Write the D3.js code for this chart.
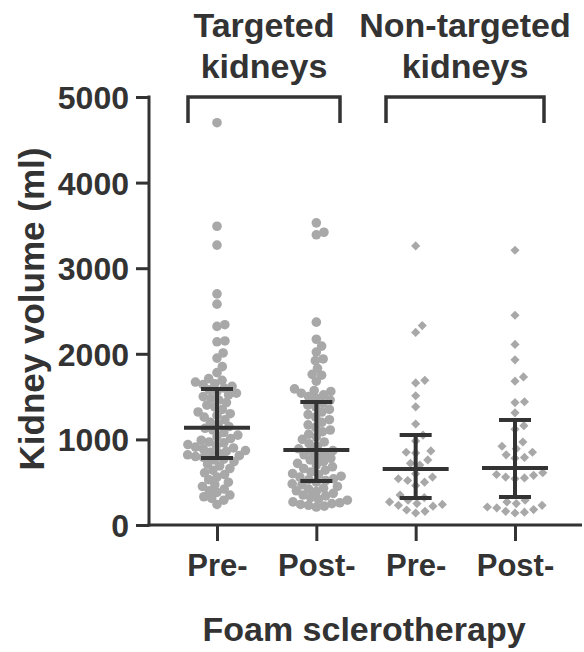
<!DOCTYPE html>
<html lang="en">
<head>
<meta charset="UTF-8" />
<script src="https://d3js.org/d3.v7.min.js"></script>
<style>
  body { margin: 0; background: #fff; }
  text { font-family: "Liberation Sans", Arial, sans-serif; font-weight: bold; fill: #333; }
</style>
</head>
<body>
<svg width="584" height="652"></svg>
<script>
// ---------- data ----------
var categories = ["Pre-", "Post-", "Pre- ", "Post- "];
var groupTitles = [["Targeted", "kidneys"], ["Non-targeted", "kidneys"]];
var yTicks = [0, 1000, 2000, 3000, 4000, 5000];

var targetedPre = [4700, 3490, 3270, 2700, 2580, 2340, 2320, 2150, 2140, 2010, 1950, 1850, 1780,
  1710, 1690, 1670, 1650, 1640, 1620, 1600, 1580, 1560, 1540, 1520, 1500, 1480, 1460,
  1430, 1400, 1380, 1350, 1320, 1300, 1280, 1260,
  1230, 1200, 1180, 1150, 1130, 1110, 1080, 1050, 1030, 1010,
  990, 970, 960, 940, 930, 910, 900, 890, 870, 860, 850, 840, 820, 810, 800, 790, 770, 760,
  740, 710, 690, 660, 640, 610, 590, 560,
  530, 500, 470, 450, 420, 400, 380, 350, 330, 310, 290, 240];
var targetedPost = [3530, 3420, 3390, 2370, 2170, 2090, 2020, 1940, 1920, 1830, 1760, 1750, 1680,
  1590, 1570, 1560, 1540, 1520, 1500, 1480, 1460,
  1420, 1400, 1380, 1350, 1320, 1290, 1260, 1230, 1200, 1170, 1140, 1110, 1090, 1060, 1030, 1000, 970, 950, 920, 890,
  870,
  860, 840, 820, 800, 780, 760, 740, 720, 700, 680, 660, 640, 620, 600, 590, 570, 560, 540, 530, 520,
  500, 480, 470, 450, 430, 420, 400, 390, 370, 350, 340, 320, 300, 290, 270, 260, 250, 240, 230, 220, 210];
var nonTargetedPre = [3260, 2330, 2250, 1690, 1660, 1510, 1380, 1180, 1050, 980, 865, 850, 840, 760,
  720, 700, 600, 560, 540, 520, 500, 460, 350, 320, 290, 270, 250, 240, 230, 220, 175, 160, 140];
var nonTargetedPost = [3210, 2450, 2110, 1930, 1730, 1680, 1440, 1430, 1310, 1160, 1120, 970, 920,
  890, 850, 820, 790, 780, 610, 590, 580, 560, 550, 540, 290, 270, 250, 230, 210, 200, 180, 160, 150, 140];

// median and interquartile range shown by the error bars
var medians = [1135, 876, 654, 666];
var q1 = [783, 514, 315, 327];
var q3 = [1589, 1437, 1051, 1227];

var series = [targetedPre, targetedPost, nonTargetedPre, nonTargetedPost];
var shapes = ["circle", "circle", "diamond", "diamond"];

// ---------- layout ----------
var svg = d3.select("svg");
var ink = "#333";
var dotColor = "#a8a8a8";

var y = d3.scaleLinear().domain([0, 5000]).range([525, 97]);
var x = d3.scalePoint().domain(categories).range([217, 515]);
var axisX0 = 149;

// greedy beeswarm in pixel space
function swarm(values, cx, dist) {
  var pts = values.map(function(v) { return {v: v, y: y(v), x: 0}; })
    .sort(function(a, b) { return a.v - b.v; });
  var placed = [];
  pts.forEach(function(p) {
    var cand = [0];
    placed.forEach(function(q) {
      var dy = p.y - q.y;
      if (Math.abs(dy) < dist) {
        var dx = Math.sqrt(dist * dist - dy * dy);
        cand.push(q.x + dx, q.x - dx);
      }
    });
    cand.sort(function(a, b) { return Math.abs(a) - Math.abs(b); });
    for (var i = 0; i < cand.length; i++) {
      var ok = placed.every(function(q) {
        var dx = cand[i] - q.x, dy = p.y - q.y;
        return dx * dx + dy * dy >= dist * dist - 0.01;
      });
      if (ok) { p.x = cand[i]; break; }
    }
    placed.push(p);
  });
  pts.forEach(function(p) { p.x += cx; });
  return pts;
}

// points
series.forEach(function(vals, i) {
  var g = svg.append("g");
  if (shapes[i] == "circle") {
    var pts = swarm(vals, x(categories[i]), 8);
    g.selectAll("circle").data(pts).enter().append("circle")
      .attr("cx", function(d) { return d.x; })
      .attr("cy", function(d) { return d.y; })
      .attr("r", 4.8)
      .attr("fill", dotColor);
  } else {
    var pts = swarm(vals, x(categories[i]), 9.5);
    var sym = d3.symbol().type(d3.symbolSquare).size(42);
    g.selectAll("path").data(pts).enter().append("path")
      .attr("d", sym)
      .attr("transform", function(d) { return "translate(" + d.x + "," + d.y + ") rotate(45)"; })
      .attr("fill", dotColor);
  }
});

// error bars: median + IQR
var eb = svg.append("g").attr("stroke", ink).attr("stroke-width", 4).attr("fill", "none");
categories.forEach(function(c, i) {
  var cx = x(c);
  eb.append("line").attr("x1", cx).attr("x2", cx).attr("y1", y(q1[i])).attr("y2", y(q3[i]));
  eb.append("line").attr("x1", cx - 16).attr("x2", cx + 16).attr("y1", y(q1[i])).attr("y2", y(q1[i]));
  eb.append("line").attr("x1", cx - 16).attr("x2", cx + 16).attr("y1", y(q3[i])).attr("y2", y(q3[i]));
  eb.append("line").attr("x1", cx - 33).attr("x2", cx + 33).attr("y1", y(medians[i])).attr("y2", y(medians[i]));
});

// y axis
var yAxis = d3.axisLeft(y).tickValues(yTicks).tickSize(13).tickPadding(7).tickFormat(d3.format("d"));
var gy = svg.append("g").attr("transform", "translate(" + axisX0 + ",0)").call(yAxis);
gy.select(".domain").attr("stroke", ink).attr("stroke-width", 3).attr("d", "M0," + (y(5000) - 1.5) + "V" + (y(0) + 1.5));
gy.selectAll(".tick line").attr("stroke", ink).attr("stroke-width", 3);
gy.selectAll(".tick text").style("font-size", "32px").attr("fill", ink).attr("dy", "0.36em");

// x axis
var xAxis = d3.axisBottom(x).tickSize(16).tickPadding(13);
var gx = svg.append("g").attr("transform", "translate(0," + y(0) + ")").call(xAxis);
gx.select(".domain").attr("stroke", ink).attr("stroke-width", 3).attr("d", "M" + (axisX0 - 1.5) + ",0H582");
gx.selectAll(".tick line").attr("stroke", ink).attr("stroke-width", 3);
gx.selectAll(".tick text").style("font-size", "31px").attr("fill", ink);

// axis titles
svg.append("text").attr("transform", "translate(44,309) rotate(-90)")
  .attr("text-anchor", "middle").style("font-size", "35px").text("Kidney volume (ml)");
svg.append("text").attr("x", 364).attr("y", 641)
  .attr("text-anchor", "middle").style("font-size", "34px").text("Foam sclerotherapy");

// group brackets and titles
var brackets = [[188, 340], [386, 544]];
brackets.forEach(function(b, i) {
  svg.append("path")
    .attr("d", "M" + b[0] + ",123V97H" + b[1] + "V123")
    .attr("fill", "none").attr("stroke", ink).attr("stroke-width", 3.5);
  var t = svg.append("text").attr("text-anchor", "middle").style("font-size", "34px");
  groupTitles[i].forEach(function(line, k) {
    t.append("tspan").attr("x", (b[0] + b[1]) / 2).attr("y", 37 + k * 41).text(line);
  });
});
</script>
</body>
</html>
